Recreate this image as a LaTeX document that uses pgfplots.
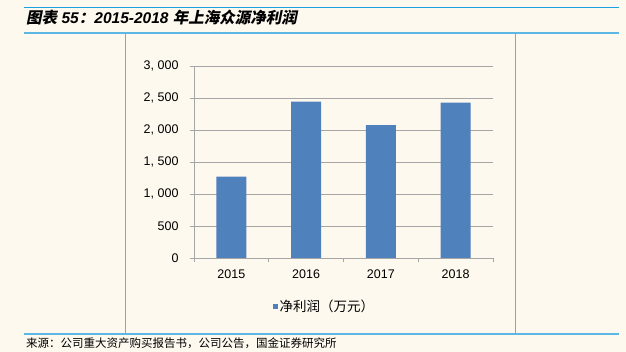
\documentclass[border=0pt]{standalone}
\usepackage{pgfplots}
\pgfplotsset{compat=1.18}
\usepackage{fontspec}
\setmainfont{Liberation Sans}
\newfontfamily\cjk{Noto Sans CJK SC}
\newfontfamily\cjksl[FakeSlant=0.2]{Noto Sans CJK SC}
\definecolor{bg}{HTML}{FEF9EF}
\definecolor{barblue}{HTML}{4F81BD}
\definecolor{topblue}{HTML}{1BA1E2}
\definecolor{lineblue}{HTML}{5DB7E4}
\definecolor{gridgray}{HTML}{A6A6A6}
\definecolor{boxgray}{HTML}{A0A0A0}
\begin{document}
\begin{tikzpicture}
\begin{scope}[x=1pt,y=1pt]
\path[use as bounding box, fill=bg] (0,0) rectangle (626,352);
\draw[boxgray, line width=1pt] (125,18) rectangle (515,318.7);
\draw[topblue, line width=1.2pt] (24,344.5) -- (619,344.5);
\draw[lineblue, line width=1.6pt] (24,318.7) -- (619,318.7);
\draw[lineblue, line width=1.6pt] (24,18) -- (619,18);
\node[anchor=base west, inner sep=0, font=\fontsize{15.5}{18}\selectfont\bfseries] at (26,328.5) {{\cjksl 图表}\ \textit{55}{\cjksl ：}\textit{2015-2018}\ {\cjksl 年上海众源净利润}};
\node[anchor=base west, inner sep=0, font=\fontsize{11.5}{14}\selectfont\cjk] at (26,4) {来源：公司重大资产购买报告书，公司公告，国金证券研究所};
\end{scope}
\begin{axis}[at={(194pt,94pt)}, anchor=south west, scale only axis,
  width=299pt, height=192pt,
  xmin=-0.5, xmax=3.5, ymin=0, ymax=3000,
  axis x line*=bottom, axis y line*=left,
  axis line style={gridgray, line width=0.9pt},
  ytick={0,500,...,3000},
  yticklabels={0,500,{1, 000},{1, 500},{2, 000},{2, 500},{3, 000}},
  ymajorgrids, grid style={gridgray, line width=0.9pt},
  xtick={0,1,2,3}, xticklabels={2015,2016,2017,2018},
  major x tick style={draw=none},
  minor xtick={-0.5,0.5,1.5,2.5,3.5},
  tick align=outside, major tick length=4pt, minor tick length=4pt,
  tick style={gridgray, line width=0.9pt},
  ticklabel style={font=\fontsize{12.5}{14}\selectfont},
  yticklabel style={xshift=-8pt},
  xticklabel style={yshift=-4pt},
  legend style={at={(0.436,-0.254)}, anchor=center, draw=none, fill=none,
    font=\fontsize{13.5}{15}\selectfont\cjk},
  legend image code/.code={\fill[barblue] (0pt,-2.5pt) rectangle (5pt,2.5pt);},
]
\addplot[ybar, bar width=30pt, fill=barblue, draw=none] coordinates {(0,1270) (1,2442) (2,2078) (3,2427)};
\addlegendentry{净利润（万元）}
\end{axis}
\end{tikzpicture}
\end{document}
